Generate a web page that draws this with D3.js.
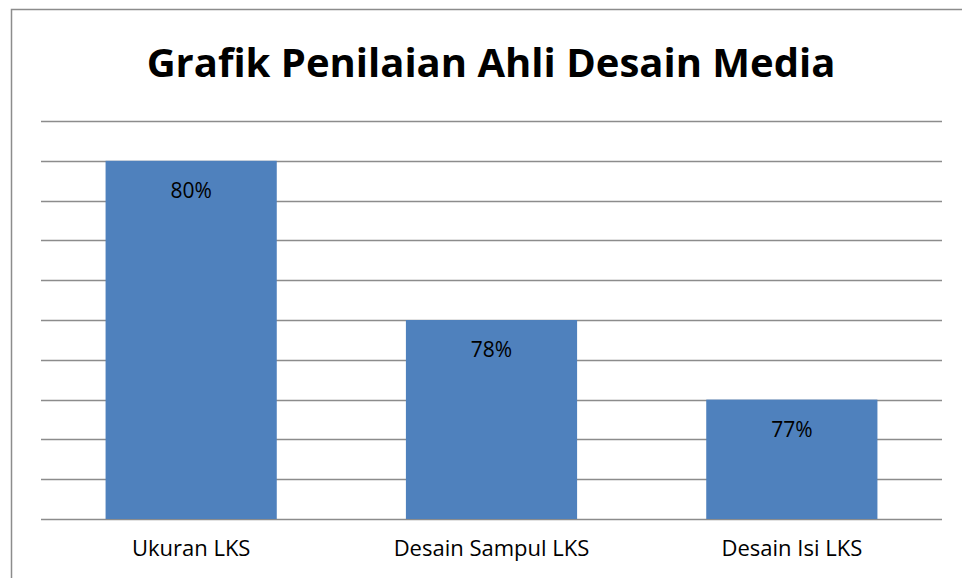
<!DOCTYPE html>
<html>
<head>
<meta charset="utf-8">
<script src="https://cdn.jsdelivr.net/npm/d3@7"></script>
<style>
  body { margin: 0; background: #fff; }
  svg { display: block; font-family: "Open Sans", "Noto Sans", sans-serif; }
</style>
</head>
<body>
<svg width="962" height="578"></svg>
<script>
// chart data
var categories = ["Ukuran LKS", "Desain Sampul LKS", "Desain Isi LKS"];
var values = [0.80, 0.78, 0.77];
var labels = ["80%", "78%", "77%"];
var gridTicks = [0.755, 0.76, 0.765, 0.77, 0.775, 0.78, 0.785, 0.79, 0.795, 0.80, 0.805];

function drawChart() {
  var svg = d3.select("svg");
  var plotLeft = 41, plotRight = 942, plotTop = 121, plotBottom = 519;

  // outer frame (cut off at right and bottom)
  svg.append("path")
    .attr("d", "M11.5,590V9.5H970")
    .attr("fill", "none")
    .attr("stroke", "#8c8c8c")
    .attr("stroke-width", 1.5);

  // title
  svg.append("text")
    .attr("x", 491)
    .attr("y", 77)
    .attr("text-anchor", "middle")
    .attr("font-size", 40)
    .attr("font-weight", "bold")
    .attr("fill", "#000")
    .text("Grafik Penilaian Ahli Desain Media");

  var x = d3.scaleBand()
    .domain(categories)
    .range([plotLeft, plotRight])
    .paddingInner(0.43)
    .paddingOuter(0.215);

  var y = d3.scaleLinear()
    .domain([0.755, 0.805])
    .range([plotBottom, plotTop]);

  // gridlines
  svg.append("g")
    .selectAll("line")
    .data(gridTicks)
    .enter().append("line")
    .attr("x1", plotLeft)
    .attr("x2", plotRight)
    .attr("y1", function(d) { return Math.round(y(d)) + 0.5; })
    .attr("y2", function(d) { return Math.round(y(d)) + 0.5; })
    .attr("stroke", "#8c8c8c")
    .attr("stroke-width", 1.5);

  // bars
  svg.append("g")
    .selectAll("rect")
    .data(values)
    .enter().append("rect")
    .attr("x", function(d, i) { return x(categories[i]); })
    .attr("y", function(d) { return y(d); })
    .attr("width", x.bandwidth())
    .attr("height", function(d) { return plotBottom - y(d); })
    .attr("fill", "#4f81bd");

  // value labels
  svg.append("g")
    .selectAll("text")
    .data(values)
    .enter().append("text")
    .attr("x", function(d, i) { return x(categories[i]) + x.bandwidth() / 2; })
    .attr("y", function(d) { return y(d) + 37; })
    .attr("text-anchor", "middle")
    .attr("font-size", 21)
    .attr("fill", "#000")
    .text(function(d, i) { return labels[i]; });

  // category axis labels
  var xAxis = d3.axisBottom(x).tickSize(0).tickPadding(21);
  var ax = svg.append("g")
    .attr("transform", "translate(0," + plotBottom + ")")
    .call(xAxis);
  ax.select(".domain").remove();
  ax.selectAll("text")
    .attr("font-size", 22)
    .attr("font-family", "\"Open Sans\", \"Noto Sans\", sans-serif")
    .attr("fill", "#000");
}
drawChart();
</script>
</body>
</html>
